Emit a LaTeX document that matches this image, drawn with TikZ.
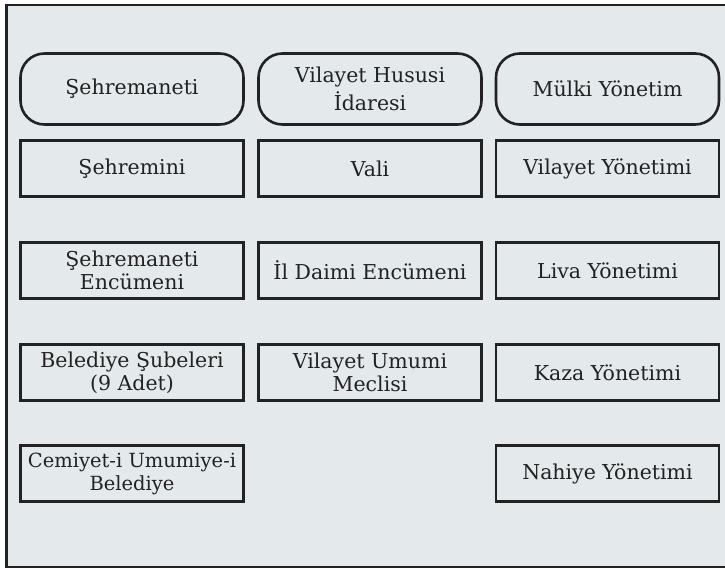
\documentclass[tikz,border=0pt]{standalone}
\usepackage{fontspec}
\setmainfont{DejaVu Serif}
\definecolor{bgc}{RGB}{228,233,236}
\definecolor{inkc}{RGB}{34,34,34}
\begin{document}
\begin{tikzpicture}[x=1pt,y=-1pt,
  box/.style={draw=inkc, line width=2.6pt, fill=bgc, minimum width=223pt, minimum height=56pt,
    inner sep=0pt, align=center, font=\fontsize{20.5}{23}\selectfont, text=inkc},
  head/.style={box, rounded corners=24pt, minimum height=71pt}]
\useasboundingbox (0,0) rectangle (725,571);
\fill[white] (0,0) rectangle (725,571);
\draw[inkc, line width=2.4pt, fill=bgc] (730,5) -- (6.5,5) -- (6.5,567) -- (730,567);
% row 1
\node[head] (sm) at (132,89) {Şehremaneti};
\node[head, font=\fontsize{20.5}{28}\selectfont] (vh) at (370,89) {Vilayet Hususi\\İdaresi};
\node[head] (my) at (607.5,89) {Mülki Yönetim};
% row 2
\node[box] (sn) at (132,168.5) {Şehremini};
\node[box] (va) at (370,168.5) {Vali};
\node[box] (vy) at (607.5,168.5) {Vilayet Yönetimi};
% row 3
\node[box] (se) at (132,270.5) {Şehremaneti\\Encümeni};
\node[box] (id) at (370,270.5) {İl Daimi Encümeni};
\node[box] (ly) at (607.5,270.5) {Liva Yönetimi};
% row 4
\node[box] (bs) at (132,372.5) {Belediye Şubeleri\\(9 Adet)};
\node[box] (vu) at (370,372.5) {Vilayet Umumi\\Meclisi};
\node[box] (ky) at (607.5,372.5) {Kaza Yönetimi};
% row 5
\node[box, font=\fontsize{19.5}{23}\selectfont] (cu) at (132,473.5) {Cemiyet-i Umumiye-i\\Belediye};
\node[box] (ny) at (607.5,473.5) {Nahiye Yönetimi};
\end{tikzpicture}
\end{document}
